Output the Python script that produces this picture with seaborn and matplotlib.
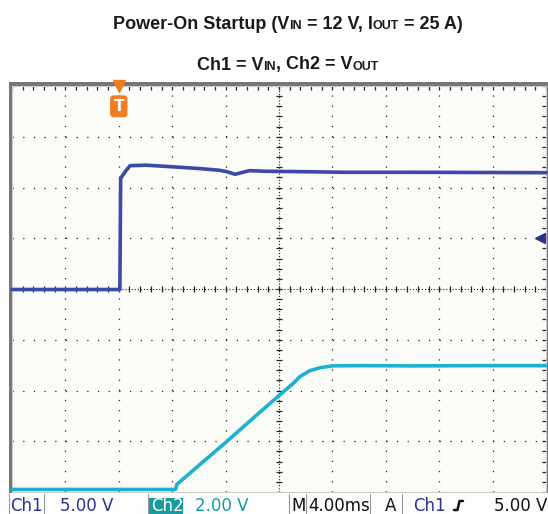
import numpy as np
import pandas as pd
import matplotlib
matplotlib.use("Agg")
import matplotlib.pyplot as plt
import seaborn as sns
from matplotlib.patches import Rectangle
from matplotlib.lines import Line2D
from matplotlib.offsetbox import TextArea, HPacker, AnchoredOffsetbox

# scope settings
ms_per_div = 4.0
ch1_v_per_div = 5.0
ch2_v_per_div = 2.0
ch1_ground_div = 4.0
ch2_ground_div = 0.0
trigger_ms = 8.0
trigger_level_v = 5.0

# Ch1 = VIN (V vs ms)
ch1_time = [0, 8.08, 8.14, 8.5, 8.85, 10.0, 11.3, 12.5, 14.1, 15.5, 16.1, 16.7,
            17.3, 17.8, 19.0, 21.6, 25.0, 30.0, 35.0, 40.0]
ch1_volts = [-0.05, -0.05, 10.9, 11.6, 12.15, 12.2, 12.1, 12.0, 11.86, 11.7, 11.56, 11.3,
             11.5, 11.66, 11.6, 11.56, 11.5, 11.5, 11.48, 11.46]

# Ch2 = VOUT (V vs ms)
ch2_time = [0, 12.25, 12.35, 14.0, 16.0, 18.0, 20.0, 21.0, 21.6, 22.3, 23.1, 24.0,
            26.0, 30.0, 35.0, 40.0]
ch2_volts = [0.1, 0.1, 0.3, 1.05, 1.95, 2.88, 3.8, 4.25, 4.56, 4.78, 4.9, 4.97,
             4.98, 4.97, 4.98, 4.98]

ch1_color = '#3a4aa6'
ch2_color = '#1cb2cf'
navy = '#27358f'
teal = '#169c9f'
orange = '#ef7d22'

sns.set_style("white")
plt.rcParams['font.family'] = ['DejaVu Sans']
plt.rcParams['lines.scale_dashes'] = False

W, H = 548, 514


def fx(px):
    return px / W


def fy(py):
    return 1 - py / H


fig = plt.figure(figsize=(W / 100, H / 100), dpi=100)
fig.patch.set_facecolor('white')

# grey bezel round the screen (behind the axes)
fig.patches.append(Rectangle((fx(9), fy(493)), fx(548) - fx(9), fy(82) - fy(493),
                             transform=fig.transFigure, fc='#777777', ec='none', zorder=-10))

ax = fig.add_axes([fx(12), fy(492), fx(546) - fx(12), fy(86) - fy(492)])
ax.set_facecolor('#fbfbf8')

dfr = pd.concat([
    pd.DataFrame({'time': ch1_time, 'div': np.array(ch1_volts) / ch1_v_per_div + ch1_ground_div,
                  'channel': 'Ch1'}),
    pd.DataFrame({'time': ch2_time, 'div': np.array(ch2_volts) / ch2_v_per_div + ch2_ground_div,
                  'channel': 'Ch2'}),
])

xmax = 10 * ms_per_div
ax.set_xlim(0, xmax)
ax.set_ylim(0, 8)

# graticule: dotted lines every division, dots at every fifth of a division
hx = 534 / 10 / 5 / 1.389
vy = 406 / 8 / 5 / 1.389
for i in range(1, 10):
    if i == 5:
        continue
    ax.axvline(i * ms_per_div, color='#222222', lw=0.9, ls=(0, (0.9, vy - 0.9)), zorder=1)
for j in range(1, 8):
    if j == 4:
        continue
    ax.axhline(j, color='#222222', lw=0.9, ls=(0, (0.9, hx - 0.9)), zorder=1)

# centre cross: dense dots + ticks
ax.axvline(5 * ms_per_div, color='#222222', lw=0.8, ls=(0, (0.8, 1.4)), zorder=1)
ax.axhline(4, color='#222222', lw=0.8, ls=(0, (0.8, 1.4)), zorder=1)
xt = np.arange(0, xmax + 0.01, ms_per_div / 5)
yt = np.arange(0, 8.01, 0.2)
ax.plot(xt, np.full(len(xt), 4.0), ls='none', marker='|', ms=5, mew=0.9, color='#222222', zorder=1)
ax.plot(np.full(len(yt), 5 * ms_per_div), yt, ls='none', marker='_', ms=5, mew=0.9, color='#222222', zorder=1)

ax.set_xticks(np.arange(0, xmax + 0.01, ms_per_div))
ax.set_xticks(xt, minor=True)
ax.set_yticks(np.arange(0, 8.01, 1))
ax.set_yticks(yt, minor=True)
ax.tick_params(which='both', direction='in', length=3, width=0.9, color='#222222',
               top=True, right=True, labelbottom=False, labelleft=False)
for s in ax.spines.values():
    s.set_color('#cccccc')
    s.set_linewidth(0.8)

sns.lineplot(data=dfr, x='time', y='div', hue='channel',
             palette={'Ch1': ch1_color, 'Ch2': ch2_color},
             estimator=None, sort=False, lw=2.6, legend=False, ax=ax, zorder=3)
for ln in ax.get_lines()[-2:]:
    ln.set_clip_on(False)
ax.set_xlabel('')
ax.set_ylabel('')

# trigger position marker
ax.plot([trigger_ms], [8], marker='v', ms=9, color=orange, clip_on=False, zorder=5)
ax.text(trigger_ms, 7.6, 'T', ha='center', va='center', color='white', fontsize=11,
        fontweight='bold', zorder=6,
        bbox=dict(boxstyle='round,pad=0.18', fc=orange, ec=orange))

# trigger level marker
ax.plot([xmax - 0.45], [trigger_level_v / ch1_v_per_div + ch1_ground_div], marker='<', ms=7,
        color=navy, clip_on=False, zorder=5)

# title
def title_line(parts, y):
    kids = [TextArea(t, textprops=dict(size=sz, weight='bold', color='#1a1a1a',
                                       family=['Liberation Sans', 'DejaVu Sans']))
            for t, sz in parts]
    box = HPacker(children=kids, align='baseline', pad=0, sep=0)
    anch = AnchoredOffsetbox(loc='center', child=box, bbox_to_anchor=(fx(288), fy(y)),
                             bbox_transform=fig.transFigure, frameon=False, pad=0, borderpad=0)
    fig.add_artist(anch)


title_line([('Power-On Startup (V', 13), ('IN', 9), (' = 12 V, I', 13), ('OUT', 9),
            (' = 25 A)', 13)], 24)
title_line([('Ch1 = V', 13), ('IN', 9), (', Ch2 = V', 13), ('OUT', 9)], 65)

# status bar
fig.patches.append(Rectangle((fx(9), fy(514)), fx(548) - fx(9), fy(493) - fy(514),
                             transform=fig.transFigure, fc='#fdfdfd', ec='none', zorder=-5))
fig.patches.append(Rectangle((fx(149), fy(514)), fx(183) - fx(149), fy(498) - fy(514),
                             transform=fig.transFigure, fc=teal, ec='none', zorder=2))
for xs in [9, 44, 148, 289, 306, 370, 402]:
    fig.add_artist(Line2D([fx(xs), fx(xs)], [fy(514), fy(494)], color='#999999', lw=0.8))

sb_y = fy(506)
sb = dict(fontsize=12, va='center', ha='left', zorder=4)
fig.text(fx(10), sb_y, 'Ch1', color=navy, **sb)
fig.text(fx(60), sb_y, '5.00 V', color=navy, **sb)
fig.text(fx(151), sb_y, 'Ch2', color='white', **sb)
fig.text(fx(195), sb_y, '2.00 V', color=teal, **sb)
fig.text(fx(291), sb_y, 'M', color='#111111', **sb)
fig.text(fx(308), sb_y, '4.00ms', color='#111111', **sb)
fig.text(fx(385), sb_y, 'A', color='#111111', **sb)
fig.text(fx(413), sb_y, 'Ch1', color=navy, **sb)
fig.add_artist(Line2D([fx(454), fx(457.5), fx(459.5), fx(463)],
                      [fy(510), fy(510), fy(501), fy(501)], color='#111111', lw=1.8))
fig.text(fx(494), sb_y, '5.00 V', color='#111111', **sb)

fig.savefig('out.png', dpi=100)
